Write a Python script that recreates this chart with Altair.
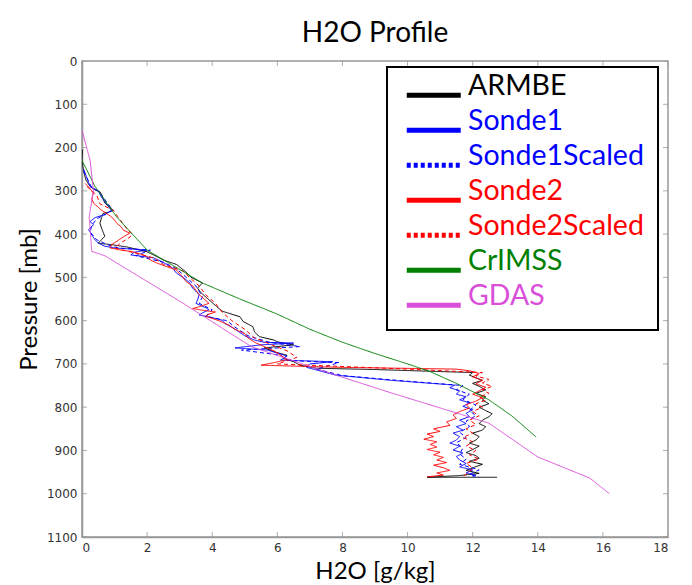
import altair as alt
import pandas as pd

# ---------------- data ----------------
series_names = ["ARMBE", "Sonde1", "Sonde1Scaled", "Sonde2", "Sonde2Scaled", "CrIMSS", "GDAS"]
series_colors = ["#000000", "#0000ff", "#0000ff", "#ff0000", "#ff0000", "#008000", "#d94fd9"]
series_dash = [[1, 0], [1, 0], [4, 3], [1, 0], [4, 3], [1, 0], [1, 0]]
line_opacity = [1, 1, 1, 1, 1, 0.55, 0.6]

x_ticks = [0, 2, 4, 6, 8, 10, 12, 14, 16, 18]
y_ticks = [0, 100, 200, 300, 400, 500, 600, 700, 800, 900, 1000, 1100]

armbe_p = [205, 230, 255, 275, 290, 298, 302, 312, 328, 338, 345, 350, 352, 362, 375, 390, 405, 413,
           421, 425, 430, 441, 448, 460, 470, 476, 488, 500, 513, 525, 535, 552, 565, 578, 591, 602,
           614, 626, 637, 645, 649, 656, 663, 672, 680, 687, 695, 703, 710, 713,
           720, 726, 732, 738, 745, 752, 760, 768, 776, 784, 792, 800, 808, 815, 822, 830, 838, 845,
           853, 860, 868, 876, 883, 890, 898, 905, 912, 918, 925, 932, 940, 946, 953, 958, 962, 962]
armbe_h2o = [0.02, 0.0, 0.05, 0.12, 0.25, 0.4, 0.55, 0.62, 0.7, 0.85, 0.96, 0.8, 0.65, 0.6, 0.55, 0.62,
             0.7, 0.6, 0.5, 0.96, 1.4, 2.0, 2.2, 2.5, 2.9, 3.0, 3.2, 3.35, 3.7, 3.55, 3.65, 3.9, 4.1,
             4.3, 4.85, 4.95, 5.25, 5.3, 5.45, 5.9, 6.0, 6.5, 5.6, 5.9, 6.3, 6.2, 6.5, 6.7, 7.2, 9.0,
             12.0, 11.9, 12.1, 12.3, 12.0, 12.2, 12.4, 12.1, 12.4, 12.3, 12.5, 12.2, 12.4, 12.6, 12.5,
             12.3, 12.2, 12.4, 12.3, 12.0, 12.2, 12.1, 11.9, 12.2, 12.0, 11.8, 12.1, 12.2, 11.9, 12.3,
             12.0, 11.8, 12.2, 11.6, 10.6, 12.75]

sonde1_p = [250, 270, 290, 300, 315, 330, 345, 355, 362, 371, 378, 383, 390, 395, 402, 413, 421, 428,
            432, 437, 442, 448, 455, 462, 470, 480, 490, 500, 512, 525, 540, 552, 560, 570, 575, 582,
            587, 593, 599, 607, 615, 625, 635, 645, 650, 652, 656, 663, 668, 675, 682, 691, 695, 700,
            708, 718, 726, 738,
            749, 755, 762, 770, 776, 783, 790, 798, 806, 814, 822, 830, 838, 845, 853, 860, 868, 876,
            883, 890, 899, 906, 914, 922, 930, 938, 945, 952, 957, 961]
sonde1_h2o = [0.05, 0.15, 0.25, 0.5, 0.6, 0.75, 0.9, 0.7, 0.4, 0.25, 0.35, 0.3, 0.2, 0.25, 0.3, 0.4,
              0.5, 0.7, 1.0, 2.0, 1.6, 1.5, 2.2, 2.4, 2.6, 2.8, 2.9, 3.1, 3.3, 3.4, 3.6, 3.55, 3.5, 3.8,
              3.9, 3.7, 3.6, 4.0, 4.3, 4.4, 4.6, 4.8, 5.0, 5.3, 5.6, 6.5, 5.5, 4.7, 5.7, 6.0, 6.3, 6.1,
              7.7, 7.0, 6.9, 7.4, 7.8, 9.5,
              11.45, 11.3, 11.6, 11.5, 11.8, 11.6, 11.9, 11.7, 12.0, 11.8, 11.9, 11.6, 11.8, 11.5, 11.7,
              11.4, 11.6, 11.5, 11.3, 11.6, 11.4, 11.7, 11.5, 11.6, 11.8, 11.6, 12.0, 11.8, 12.1, 12.0]

sonde1s_p = [255, 290, 305, 330, 345, 365, 380, 395, 413, 425, 432, 437, 450, 465, 480, 500, 520, 545,
             560, 575, 590, 600, 615, 635, 650, 660, 668, 680, 692, 697, 712, 727, 740,
             750, 760, 770, 782, 795, 808, 820, 832, 845, 858, 870, 882, 895, 908, 920, 932, 945, 955, 962]
sonde1s_h2o = [0.05, 0.28, 0.55, 0.8, 0.95, 0.45, 0.3, 0.25, 0.45, 0.8, 1.1, 2.1, 1.65, 2.5, 2.9, 3.2,
               3.5, 3.7, 3.6, 4.0, 3.8, 4.45, 4.7, 5.1, 5.75, 6.7, 4.9, 6.1, 6.3, 7.9, 7.2, 8.0, 10.0,
               11.7, 11.5, 11.9, 11.7, 12.1, 11.9, 12.1, 11.8, 11.9, 11.6, 11.8, 11.5, 11.7, 11.6,
               11.8, 11.6, 12.2, 11.9, 12.2]

sonde2_p = [283, 295, 306, 318, 328, 338, 345, 352, 360, 368, 375, 383, 391, 398, 405, 415, 425, 432,
            437, 440, 446, 452, 460, 467, 475, 483, 492, 500, 510, 520, 530, 540, 550, 560, 568, 572,
            576, 580, 585, 590, 600, 610, 620, 630, 640, 650, 660, 670, 680, 690, 697, 703, 708,
            712, 716, 722, 730, 738, 746, 754, 762, 770, 778, 786, 794, 802, 810, 818, 826, 834, 842,
            850, 856, 862, 868, 874, 880, 886, 892, 898, 904, 910, 916, 922, 928, 934, 940, 946, 952,
            957, 961]
sonde2_h2o = [0.1, 0.25, 0.35, 0.3, 0.35, 0.5, 0.6, 0.75, 0.9, 1.0, 1.07, 1.2, 1.27, 1.47, 1.3, 1.1,
              0.9, 0.86, 1.2, 1.5, 1.8, 2.0, 2.1, 2.3, 2.6, 2.9, 3.0, 3.1, 3.2, 3.4, 3.5, 3.6, 3.75,
              3.9, 3.6, 3.4, 3.7, 4.1, 3.9, 3.8, 4.2, 4.5, 4.7, 5.0, 5.1, 5.3, 5.6, 5.9, 6.1, 6.3, 5.9,
              5.5, 8.0,
              11.5, 11.9, 12.2, 12.0, 12.3, 12.1, 12.4, 12.2, 12.0, 12.3, 12.1, 11.8, 11.9, 11.6, 11.4,
              11.5, 11.2, 11.3, 10.8, 11.0, 10.6, 10.8, 10.5, 10.9, 10.7, 10.9, 10.6, 11.0, 10.8, 11.1,
              10.9, 11.2, 10.8, 11.1, 11.3, 10.9, 11.1, 10.6]

sonde2s_p = [290, 310, 330, 345, 360, 375, 390, 400, 407, 420, 432, 445, 455, 470, 485, 500, 520, 540,
             560, 580, 600, 620, 640, 655, 670, 685, 700, 712,
             720, 728, 736, 744, 752, 760, 768, 776, 784, 792, 800, 810, 820, 830, 840, 850, 860, 870,
             880, 890, 900, 910, 920, 930, 940, 950, 960]
sonde2s_h2o = [0.15, 0.45, 0.55, 0.96, 1.1, 1.25, 1.4, 1.55, 1.47, 1.2, 1.0, 1.7, 2.2, 2.5, 3.1, 3.3,
               3.6, 3.8, 4.1, 4.3, 4.6, 5.0, 5.3, 5.8, 6.3, 6.6, 6.0, 10.0,
               12.3, 12.1, 12.5, 12.3, 12.6, 12.3, 12.5, 12.2, 12.4, 12.1, 12.3, 12.0, 12.2, 11.9, 12.1,
               11.8, 12.0, 11.7, 12.0, 11.8, 12.1, 11.9, 12.2, 11.8, 12.0, 11.9, 11.7]

crimss_p = [230, 252, 290, 360, 437, 513, 550, 585, 620, 650, 676, 700, 718, 745, 783, 820, 869]
crimss_h2o = [0.0, 0.15, 0.4, 1.06, 2.0, 3.7, 4.85, 6.0, 7.0, 8.0, 9.0, 10.0, 10.7, 11.5, 12.5, 13.2, 13.95]

gdas_p = [160, 230, 300, 360, 440, 450, 555, 660, 726, 767, 811, 837, 915, 964, 1000]
gdas_h2o = [0.0, 0.25, 0.35, 0.22, 0.3, 0.7, 3.0, 5.2, 7.8, 9.5, 11.4, 12.5, 14.0, 15.6, 16.2]

# ---------------- table ----------------
series_data = [
    ("ARMBE", armbe_p, armbe_h2o),
    ("Sonde1", sonde1_p, sonde1_h2o),
    ("Sonde1Scaled", sonde1s_p, sonde1s_h2o),
    ("Sonde2", sonde2_p, sonde2_h2o),
    ("Sonde2Scaled", sonde2s_p, sonde2s_h2o),
    ("CrIMSS", crimss_p, crimss_h2o),
    ("GDAS", gdas_p, gdas_h2o),
]
frames = []
for name, p, h in series_data:
    frames.append(pd.DataFrame({"series": name, "pressure": p, "h2o": h, "idx": list(range(len(p)))}))
df = pd.concat(frames, ignore_index=True)

# ---------------- chart ----------------
x_scale = alt.Scale(domain=[0, 18], nice=False, zero=False)
y_scale = alt.Scale(domain=[0, 1100], reverse=True, nice=False, zero=False)
x_axis = alt.Axis(values=x_ticks, title="H2O [g/kg]", ticks=False, grid=False, labelPadding=5, titlePadding=6)
y_axis = alt.Axis(values=y_ticks, title="Pressure [mb]", format="d", ticks=False, grid=False,
                  labelPadding=5, titlePadding=5)

legend = alt.Legend(
    title=None, orient="none", legendX=305, legendY=6,
    labelColor=alt.ExprRef(expr="scale('color', datum.value)"),
    labelExpr="datum.label + '\u00a0\u00a0\u00a0\u00a0'",
    labelFont="Lato", labelFontSize=28.5, labelBaseline="alphabetic", labelLimit=400,
    symbolType="M-3,0H3", symbolSize=324, symbolStrokeWidth=5, symbolOffset=18.5, labelOffset=20,
    padding=14, rowPadding=1, strokeColor="black", fillColor="white",
)

lines = alt.Chart(df).mark_line(strokeWidth=1, clip=True).encode(
    x=alt.X("h2o:Q", scale=x_scale, axis=x_axis),
    y=alt.Y("pressure:Q", scale=y_scale, axis=y_axis),
    color=alt.Color("series:N", scale=alt.Scale(domain=series_names, range=series_colors),
                    sort=series_names, legend=legend),
    strokeDash=alt.StrokeDash("series:N", scale=alt.Scale(domain=series_names, range=series_dash),
                              sort=series_names, legend=legend),
    opacity=alt.Opacity("series:N", scale=alt.Scale(domain=series_names, range=line_opacity), legend=None),
    order=alt.Order("idx:Q"),
)

xt = pd.DataFrame({"v": x_ticks})
yt = pd.DataFrame({"v": y_ticks})
tick_color = "#8c8c8c"
bottom_ticks = alt.Chart(xt).mark_tick(orient="vertical", size=10, thickness=1, color=tick_color, clip=True).encode(
    x=alt.X("v:Q", scale=x_scale, axis=x_axis), y=alt.Y(datum=1100, scale=y_scale, axis=y_axis))
top_ticks = alt.Chart(xt).mark_tick(orient="vertical", size=10, thickness=1, color=tick_color, clip=True).encode(
    x=alt.X("v:Q", scale=x_scale, axis=x_axis), y=alt.Y(datum=0, scale=y_scale, axis=y_axis))
left_ticks = alt.Chart(yt).mark_tick(orient="horizontal", size=10, thickness=1, color=tick_color, clip=True).encode(
    y=alt.Y("v:Q", scale=y_scale, axis=y_axis), x=alt.X(datum=0, scale=x_scale, axis=x_axis))
right_ticks = alt.Chart(yt).mark_tick(orient="horizontal", size=10, thickness=1, color=tick_color, clip=True).encode(
    y=alt.Y("v:Q", scale=y_scale, axis=y_axis), x=alt.X(datum=18, scale=x_scale, axis=x_axis))

chart = alt.layer(bottom_ticks, top_ticks, left_ticks, right_ticks, lines).properties(
    width=586, height=476,
    title=alt.Title("H2O Profile", font="Lato", fontSize=28, fontWeight="normal", color="black", offset=7),
    autosize=alt.AutoSizeParams(type="none"),
    padding={"left": 82, "top": 61, "right": 24, "bottom": 48},
).configure_view(
    stroke="#999999", strokeWidth=1.5
).configure_axis(
    domainColor="#999999", domainWidth=1.5,
    labelFont="DejaVu Sans", labelFontSize=12, labelColor="#333333",
    titleFont="Lato", titleFontSize=24, titleFontWeight="normal", titleColor="black",
).configure_legend(
    strokeWidth=2
)

chart.save("out.html", embed_options={"renderer": "svg", "actions": False})
